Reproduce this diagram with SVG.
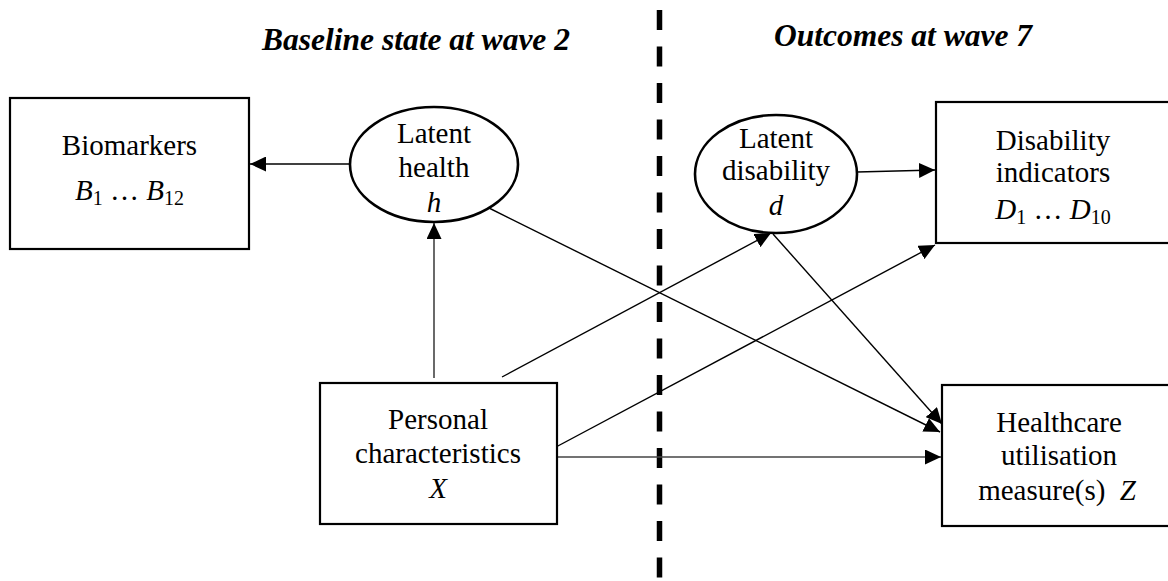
<svg xmlns="http://www.w3.org/2000/svg" width="1168" height="581" viewBox="0 0 1168 581">
<style>
text{font-family:"Liberation Serif","Times New Roman",serif;font-size:29px;fill:#000;text-anchor:middle}
.title{font-size:31.5px;font-weight:bold;font-style:italic}
.m{font-style:italic}
.s{font-size:20px;font-style:normal}
.box{fill:#fff;stroke:#000;stroke-width:2.2}
.ell{fill:#fff;stroke:#000;stroke-width:2.6}
.c{stroke:#000;stroke-width:1.4;fill:none}
.g{stroke:#444;stroke-width:1.6;fill:none}
</style>
<defs>
<marker id="ah" markerUnits="userSpaceOnUse" markerWidth="16" markerHeight="15" refX="16" refY="7.5" orient="auto">
<path d="M0,0 L16,7.5 L0,15 z" fill="#000"/>
</marker>
</defs>
<rect width="1168" height="581" fill="#fff"/>
<text class="title" x="416" y="50">Baseline state at wave 2</text>
<text class="title" x="903" y="46">Outcomes at wave 7</text>
<line x1="659.5" y1="10" x2="659.5" y2="580" stroke="#000" stroke-width="5.5" stroke-dasharray="20,16.5"/>
<g id="connectors">
<line class="c" x1="350" y1="164" x2="250" y2="164" marker-end="url(#ah)"/>
<line class="g" x1="434" y1="378" x2="434" y2="223" marker-end="url(#ah)"/>
<line class="c" x1="487" y1="207" x2="940" y2="432" marker-end="url(#ah)"/>
<line class="c" x1="502" y1="377" x2="771" y2="233" marker-end="url(#ah)"/>
<line class="c" x1="556" y1="447" x2="935" y2="245" marker-end="url(#ah)"/>
<line class="c" x1="773" y1="234" x2="942" y2="424" marker-end="url(#ah)"/>
<line class="g" x1="557" y1="457" x2="941" y2="457" marker-end="url(#ah)"/>
<line class="c" x1="857" y1="172" x2="935" y2="170" marker-end="url(#ah)"/>
</g>
<g id="biomarkers">
<rect class="box" x="10" y="98" width="239" height="151"/>
<text x="129.5" y="155">Biomarkers</text>
<text x="129.5" y="200"><tspan class="m">B</tspan><tspan class="s" dy="5">1</tspan><tspan dy="-5"> … </tspan><tspan class="m">B</tspan><tspan class="s" dy="5">12</tspan></text>
</g>
<g id="latent-health">
<ellipse class="ell" cx="434" cy="164.5" rx="84" ry="57.5"/>
<text x="434" y="143">Latent</text>
<text x="434" y="177">health</text>
<text class="m" x="434" y="212">h</text>
</g>
<g id="latent-disability">
<ellipse class="ell" cx="776" cy="174" rx="81" ry="59"/>
<text x="776" y="148">Latent</text>
<text x="776" y="180">disability</text>
<text class="m" x="776" y="215">d</text>
</g>
<g id="disability-indicators">
<rect class="box" x="936" y="102" width="250" height="141"/>
<text x="1053" y="150">Disability</text>
<text x="1053" y="182">indicators</text>
<text x="1053" y="219"><tspan class="m">D</tspan><tspan class="s" dy="5">1</tspan><tspan dy="-5"> … </tspan><tspan class="m">D</tspan><tspan class="s" dy="5">10</tspan></text>
</g>
<g id="personal">
<rect class="box" x="320" y="383" width="237" height="141"/>
<text x="438" y="429">Personal</text>
<text x="438" y="463">characteristics</text>
<text class="m" x="438" y="498">X</text>
</g>
<g id="healthcare">
<rect class="box" x="942" y="385" width="250" height="141"/>
<text x="1059" y="432">Healthcare</text>
<text x="1059" y="465">utilisation</text>
<text x="1057" y="500">measure(s) <tspan class="m" dx="7">Z</tspan></text>
</g>
</svg>
